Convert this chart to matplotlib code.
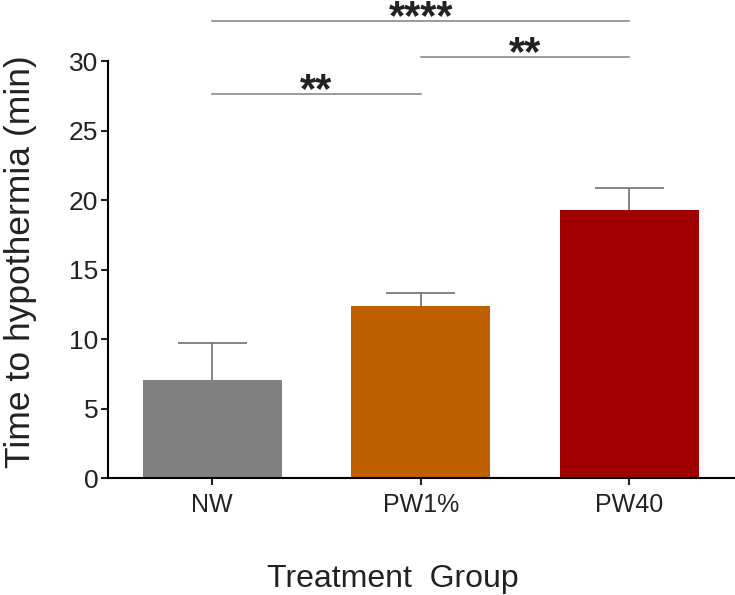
import matplotlib.pyplot as plt

groups = ['NW', 'PW1%', 'PW40']
means = [7.05, 12.35, 19.25]
errs = [2.7, 0.95, 1.6]
colors = ['#808080', '#BF6000', '#A00000']

# significance brackets: (left group, right group, height, label)
sig_left = [0, 1, 0]
sig_right = [1, 2, 2]
sig_height = [27.6, 30.3, 32.85]
sig_labels = ['**', '**', '****']

plt.rcParams['font.family'] = ['Liberation Sans', 'DejaVu Sans']

fig = plt.figure(figsize=(7.35, 5.95), dpi=100)
ax = fig.add_axes([0.147, 0.1966, 0.851, 0.7008])

x = list(range(len(groups)))
ax.bar(x, means, width=0.667, color=colors)

# upper error bars only
tops = [m + e for m, e in zip(means, errs)]
ax.vlines(x, means, tops, color='#707070', lw=1.2)
ax.hlines(tops, [i - 0.166 for i in x], [i + 0.166 for i in x], color='#707070', lw=1.2)

for l, r, h, lab in zip(sig_left, sig_right, sig_height, sig_labels):
    ax.plot([l, r], [h, h], color='#808080', lw=1.1, clip_on=False)
    ax.annotate(lab, xy=((l + r) / 2, h), xytext=(0, -5.8), textcoords='offset points',
                ha='center', va='baseline', fontsize=30, fontweight='bold',
                color='#222222', annotation_clip=False)

ax.set_xlim(-0.5, 2.5)
ax.set_ylim(0, 30)
ax.set_yticks([0, 5, 10, 15, 20, 25, 30])
ax.set_xticks(x)
ax.set_xticklabels(groups, fontsize=18)
ax.spines['top'].set_visible(False)
ax.spines['right'].set_visible(False)
ax.spines['left'].set_linewidth(1.5)
ax.spines['bottom'].set_linewidth(1.5)
ax.tick_params(axis='both', width=1.5, length=5, colors='#222222')
ax.tick_params(axis='y', labelsize=19, pad=2)
ax.tick_params(axis='x', pad=6)
ax.set_ylabel('Time to hypothermia (min)', fontsize=25.5, color='#222222')
ax.yaxis.set_label_coords(-0.114, 0.52)
ax.set_xlabel('Treatment  Group', fontsize=23, color='#222222')
ax.xaxis.set_label_coords(0.456, -0.207)

plt.savefig('out.png', dpi=100)
